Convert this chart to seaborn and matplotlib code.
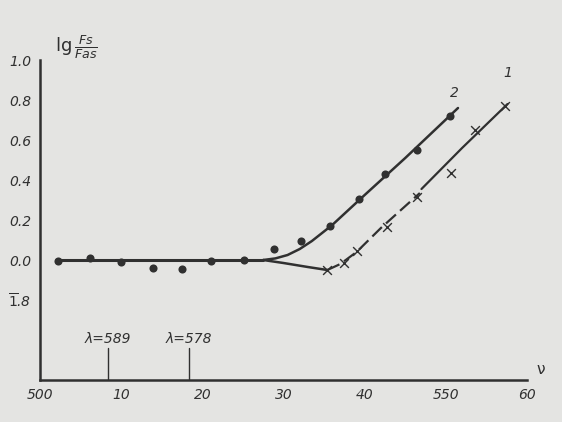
import matplotlib
matplotlib.use("Agg")
import matplotlib.pyplot as plt
import numpy as np
import pandas as pd
import seaborn as sns

# measured points, curve 2 (dots)
nu_dots = [502.2, 506.2, 510.0, 513.9, 517.5, 521.1, 525.1, 528.8, 532.2, 535.7, 539.3, 542.5, 546.4, 550.5]
lg_dots = [-0.005, 0.01, -0.01, -0.04, -0.045, -0.005, 0.0, 0.055, 0.095, 0.17, 0.305, 0.43, 0.55, 0.72]

# measured points, curve 1 (crosses)
nu_cross = [535.4, 537.4, 539.1, 542.7, 546.5, 550.6, 553.6, 557.3]
lg_cross = [-0.05, -0.015, 0.045, 0.165, 0.315, 0.435, 0.65, 0.77]

# common flat part of both curves
nu_flat = [502.0, 510.0, 520.0, 526.0, 527.5]
lg_flat = [0.0, 0.0, 0.0, 0.0, 0.0]

# curve 2 (upper branch)
nu_line2 = [527.5, 529.0, 530.5, 532.0, 533.5, 536.0, 540.0, 545.0, 551.5]
lg_line2 = [0.0, 0.008, 0.025, 0.055, 0.095, 0.175, 0.325, 0.51, 0.76]

# curve 1 (lower branch, dashed part then solid)
nu_line1_low = [527.5, 530.0, 533.0, 535.4]
lg_line1_low = [0.0, -0.015, -0.035, -0.05]
nu_line1_dash = [535.4, 537.0, 539.0, 542.0, 546.8]
lg_line1_dash = [-0.05, -0.02, 0.04, 0.16, 0.335]
nu_line1_solid = [547.0, 552.0, 557.6]
lg_line1_solid = [0.355, 0.56, 0.78]

x_ticks = [500, 510, 520, 530, 540, 550, 560]
x_labels = ["500", "10", "20", "30", "40", "550", "60"]
y_ticks = [-0.4, -0.2, 0.0, 0.2, 0.4, 0.6, 0.8, 1.0]
y_labels = ["", r"$\overline{\mathit{1}}$.8", "0.0", "0.2", "0.4", "0.6", "0.8", "1.0"]

lambda_nu = [508.4, 518.4]
lambda_text = ["λ=589", "λ=578"]

paper = "#e4e4e2"
ink = "#303030"

sns.set_theme(style="white")
plt.rcParams["font.family"] = ["DejaVu Sans"]
plt.rcParams["mathtext.fontset"] = "dejavusans"

fig = plt.figure(figsize=(5.62, 4.22), dpi=100, facecolor=paper)
ax = fig.add_axes([0.0712, 0.0995, 0.8665, 0.7583])
ax.set_facecolor(paper)

dots = pd.DataFrame({"nu": nu_dots, "lg": lg_dots})
crosses = pd.DataFrame({"nu": nu_cross, "lg": lg_cross})

ax.plot(nu_flat, lg_flat, color=ink, lw=2.2, solid_capstyle="round")
ax.plot(nu_line2, lg_line2, color=ink, lw=1.8)
ax.plot(nu_line1_low, lg_line1_low, color=ink, lw=1.8)
ax.plot(nu_line1_dash, lg_line1_dash, color=ink, lw=1.6, dashes=(6, 2.5))
ax.plot(nu_line1_solid, lg_line1_solid, color=ink, lw=1.6)

sns.scatterplot(data=dots, x="nu", y="lg", ax=ax, color=ink, s=34,
                edgecolor=ink, linewidth=0, zorder=3, legend=False)
sns.scatterplot(data=crosses, x="nu", y="lg", ax=ax, color=ink, s=40,
                marker="x", linewidth=1.0, zorder=3, legend=False)

for nu, txt in zip(lambda_nu, lambda_text):
    ax.plot([nu, nu], [-0.6, -0.44], color=ink, lw=1.0)
    ax.text(nu, -0.43, txt, ha="center", va="bottom", fontsize=10,
            style="italic", color=ink)

ax.text(551.0, 0.8, "2", fontsize=10, style="italic", color=ink, ha="center", va="bottom")
ax.text(557.6, 0.9, "1", fontsize=10, style="italic", color=ink, ha="center", va="bottom")

ax.set_xlim(500, 560)
ax.set_ylim(-0.6, 1.0)
ax.set_xticks(x_ticks)
ax.set_xticklabels(x_labels, style="italic", fontsize=10, color=ink)
ax.set_yticks(y_ticks)
ax.set_yticklabels(y_labels, style="italic", fontsize=10, color=ink)
ax.tick_params(direction="in", length=4, width=1, colors=ink, pad=6)
ax.set_xlabel("")
ax.set_ylabel("")

for side in ["top", "right"]:
    ax.spines[side].set_visible(False)
for side in ["left", "bottom"]:
    ax.spines[side].set_color(ink)
    ax.spines[side].set_linewidth(1.8)

ax.text(0.03, 1.04, r"lg$\,\frac{Fs}{Fas}$", transform=ax.transAxes,
        fontsize=13, color=ink, ha="left", va="center")
ax.text(1.02, 0.01, "ν", transform=ax.transAxes, fontsize=11,
        color=ink, ha="left", va="bottom")

fig.savefig("out.png", dpi=100, facecolor=paper)
plt.close(fig)
